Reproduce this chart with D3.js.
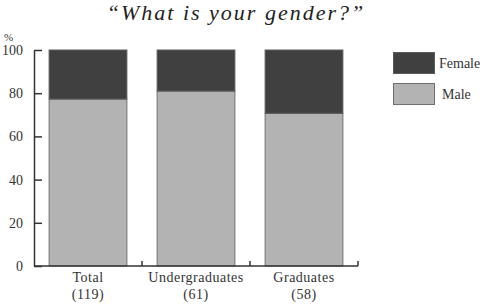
<!DOCTYPE html>
<html><head><meta charset="utf-8">
<script src="https://cdn.jsdelivr.net/npm/d3@7"></script>
<style>body{margin:0;background:#fff;} svg{display:block;font-family:"Liberation Serif","DejaVu Serif",serif;}</style>
</head><body>
<svg id="c" width="485" height="307"></svg>
<script>
const categories = ["Total", "Undergraduates", "Graduates"];
const counts = ["(119)", "(61)", "(58)"];
const male = [77.3, 81.0, 70.7];
const female = [22.7, 19.0, 29.3];
const yTicks = [0, 20, 40, 60, 80, 100];
const seriesNames = ["Female", "Male"];
const colors = {Female: "#404040", Male: "#b3b3b3"};

const svg = d3.select("#c");
const x = d3.scaleBand().domain(categories).range([34, 358]).paddingInner(0.28).paddingOuter(0.14);
const y = d3.scaleLinear().domain([0, 100]).range([266, 50]);

svg.append("text").attr("x", 236).attr("y", 20).attr("text-anchor", "middle")
  .style("font-style", "italic").style("font-size", "22px").style("letter-spacing", "2px").attr("fill", "#222")
  .text("\u201cWhat is your gender?\u201d");

svg.append("text").attr("x", 4).attr("y", 41).style("font-size", "11px").attr("fill", "#333").text("%");

// bars
const data = categories.map((c, i) => ({c, male: male[i], female: female[i]}));
const g = svg.append("g");
g.selectAll("rect.m").data(data).join("rect").attr("class", "m")
  .attr("x", d => x(d.c)).attr("width", x.bandwidth())
  .attr("y", d => y(d.male)).attr("height", d => y(0) - y(d.male))
  .attr("fill", colors.Male).attr("stroke", "#6e6e6e").attr("stroke-width", 1);
g.selectAll("rect.f").data(data).join("rect").attr("class", "f")
  .attr("x", d => x(d.c)).attr("width", x.bandwidth())
  .attr("y", d => y(d.male + d.female)).attr("height", d => y(d.male) - y(d.male + d.female))
  .attr("fill", colors.Female).attr("stroke", "#5a5a5a").attr("stroke-width", 1);

// y axis
const ya = svg.append("g").attr("transform", "translate(34,0)")
  .call(d3.axisLeft(y).tickValues(yTicks).tickSize(-8).tickPadding(11).tickSizeOuter(0));
ya.select(".domain").attr("stroke", "#333").attr("stroke-width", 1.5);
ya.selectAll(".tick line").attr("stroke", "#333").attr("stroke-width", 1.5);
ya.selectAll(".tick text").style("font-size", "14px").attr("fill", "#333")
  .style("font-family", "'Liberation Serif',serif");

// x axis line with boundary ticks
const xa = svg.append("g").attr("transform", "translate(0,266)");
xa.append("line").attr("x1", 34).attr("x2", 358).attr("stroke", "#333").attr("stroke-width", 1.5);
const step = x.step();
const bounds = categories.slice(1).map(c => x(c) - step * x.paddingInner() / 2).concat([x(categories[2]) + x.bandwidth() + step * x.paddingOuter()]);
xa.selectAll("line.t").data(bounds).join("line").attr("class", "t")
  .attr("x1", d => d).attr("x2", d => d).attr("y1", 0).attr("y2", -5)
  .attr("stroke", "#333").attr("stroke-width", 1.5);
xa.selectAll("text.c").data(categories).join("text").attr("class", "c")
  .attr("x", d => x(d) + x.bandwidth() / 2).attr("y", 16).attr("text-anchor", "middle")
  .style("font-size", "14px").style("letter-spacing", "0.5px").attr("fill", "#333").text(d => d);
xa.selectAll("text.n").data(counts).join("text").attr("class", "n")
  .attr("x", (d, i) => x(categories[i]) + x.bandwidth() / 2).attr("y", 33).attr("text-anchor", "middle")
  .style("font-size", "14px").style("letter-spacing", "0.5px").attr("fill", "#333").text(d => d);

// legend
const lg = svg.append("g");
seriesNames.forEach((s, i) => {
  lg.append("rect").attr("x", 393.5).attr("y", 52.5 + i * 31).attr("width", 41).attr("height", 21)
    .attr("fill", colors[s]).attr("stroke", s === "Male" ? "#6e6e6e" : "#5a5a5a").attr("stroke-width", 1);
  lg.append("text").attr("x", s === "Male" ? 442 : 439).attr("y", 68 + i * 31)
    .style("font-size", "14px").attr("fill", "#333").text(s);
});
</script>
</body></html>
